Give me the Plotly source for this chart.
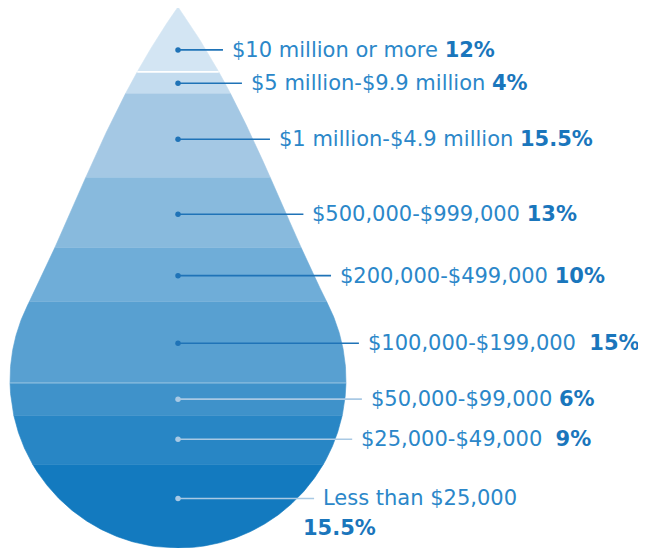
import numpy as np
import plotly.graph_objects as go

# ---------------- data ----------------
categories = [
    "$10 million or more",
    "$5 million-$9.9 million",
    "$1 million-$4.9 million",
    "$500,000-$999,000",
    "$200,000-$499,000",
    "$100,000-$199,000",
    "$50,000-$99,000",
    "$25,000-$49,000",
    "Less than $25,000",
]
shares = [12, 4, 15.5, 13, 10, 15, 6, 9, 15.5]

# ---------------- style ----------------
band_colors = ["#d3e5f3", "#c4dcef", "#a4c8e4", "#88badd", "#6fadd8",
               "#58a0d1", "#3f92ca", "#2886c5", "#137abf"]
leader_dark = "#1f73b7"
leader_light = "#a9c9e4"
text_color = "#2b87c9"
pct_color = "#1a76bc"
FONT = "DejaVu Sans"
FSIZE = 21
extra_space = [0, 0, 0, 0, 0, 1, 0, 1, 0]
wrap_pct = [False] * 8 + [True]
separators = {1: ("white", 1.6), 6: ("rgba(255,255,255,0.45)", 1.0)}

# ---------------- page / geometry ----------------
W, H = 646, 548
PAGE_MARGIN = 8          # default body margin of the html page
CX, Y_TOP, Y_BOT, R = 178, 7, 548, 168
CY = Y_BOT - R
D = CY - Y_TOP
Y_TAN = Y_TOP + (D ** 2 - R ** 2) / D
HW_TAN = R * np.sqrt(1 - (R / D) ** 2)
BULGE = 0.4


def half_width(y):
    y = np.asarray(y, float)
    t = np.clip((y - Y_TOP) / (Y_TAN - Y_TOP), 0, 1)
    upper = HW_TAN * (t + BULGE * t * (1 - t) ** 2)
    lower = np.sqrt(np.clip(R ** 2 - (y - CY) ** 2, 0, None))
    return np.where(y < Y_TAN, upper, lower)


total = float(sum(shares))
cum = np.concatenate([[0.0], np.cumsum(shares)]) / total
edges = Y_TOP + cum * (Y_BOT - Y_TOP)

fig = go.Figure()

centroids = []
for i, (a, b) in enumerate(zip(edges[:-1], edges[1:])):
    ys = np.linspace(a, b, 120)
    hw = half_width(ys)
    xs = np.concatenate([CX + hw, (CX - hw)[::-1]])
    yy = np.concatenate([ys, ys[::-1]])
    fig.add_trace(go.Scatter(
        x=xs, y=yy, fill="toself", mode="lines",
        fillcolor=band_colors[i], line=dict(color=band_colors[i], width=0.6),
        hoverinfo="skip", showlegend=False))
    yf = np.linspace(a, b, 600)
    wf = half_width(yf)
    centroids.append(float((yf * wf).sum() / wf.sum()))

for idx, (col, lw) in separators.items():
    ye = edges[idx]
    hw = float(half_width(ye))
    fig.add_trace(go.Scatter(x=[CX - hw, CX + hw], y=[ye, ye], mode="lines",
                             line=dict(color=col, width=lw),
                             hoverinfo="skip", showlegend=False))

GAP_LINE = 17
GAP_TEXT = 7
annotations = []
for i, (cat, pct, yc) in enumerate(zip(categories, shares, centroids)):
    lc = leader_dark if i < 6 else leader_light
    x_end = CX + float(half_width(yc)) + GAP_LINE
    fig.add_trace(go.Scatter(x=[CX, x_end], y=[yc, yc], mode="lines",
                             line=dict(color=lc, width=1.6),
                             hoverinfo="skip", showlegend=False))
    fig.add_trace(go.Scatter(x=[CX], y=[yc], mode="markers",
                             marker=dict(color=lc, size=5.5),
                             hoverinfo="skip", showlegend=False))
    pct_txt = f"<span style='color:{pct_color}'><b>{pct:g}%</b></span>"
    if wrap_pct[i]:
        annotations.append(dict(x=x_end + GAP_TEXT, y=yc, text=cat,
                                xanchor="left", yanchor="middle", showarrow=False))
        annotations.append(dict(x=x_end + GAP_TEXT - 20, y=yc + 30, text=pct_txt,
                                xanchor="left", yanchor="middle", showarrow=False))
    else:
        sep = " " + "\u00a0" * extra_space[i]
        annotations.append(dict(x=x_end + GAP_TEXT, y=yc, text=cat + sep + pct_txt,
                                xanchor="left", yanchor="middle", showarrow=False))

for a in annotations:
    a.update(xref="x", yref="y", font=dict(family=FONT, size=FSIZE, color=text_color))

fig.update_layout(
    width=W - PAGE_MARGIN, height=H - PAGE_MARGIN,
    margin=dict(l=0, r=0, t=0, b=0, pad=0),
    paper_bgcolor="white", plot_bgcolor="white",
    xaxis=dict(range=[PAGE_MARGIN, W], visible=False, fixedrange=True),
    yaxis=dict(range=[H, PAGE_MARGIN], visible=False, fixedrange=True),
    annotations=annotations, showlegend=False,
)
fig.write_html("out.html")
